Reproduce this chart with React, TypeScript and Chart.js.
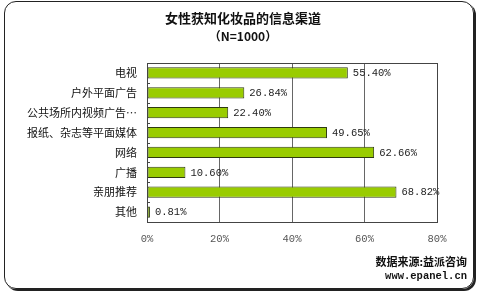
import React, { useEffect, useRef } from "react";
import { Chart, registerables } from "chart.js";

Chart.register(...registerables);

const categories = ["电视", "户外平面广告", "公共场所内视频广告…", "报纸、杂志等平面媒体", "网络", "广播", "亲朋推荐", "其他"];
const values = [55.4, 26.84, 22.4, 49.65, 62.66, 10.6, 68.82, 0.81];
const valueLabels = ["55.40%", "26.84%", "22.40%", "49.65%", "62.66%", "10.60%", "68.82%", "0.81%"];
const xTicks = [0, 20, 40, 60, 80];
const titleText = "女性获知化妆品的信息渠道";
const subtitleText = "（N=1000）";
const sourceText = "数据来源:益派咨询";
const urlText = "www.epanel.cn";

export default function App() {
  const ref = useRef<HTMLCanvasElement | null>(null);

  useEffect(() => {
    document.body.style.margin = "0";
    const canvas = ref.current!;
    const labelPlugin = {
      id: "vals",
      afterDatasetsDraw(chart: any) {
        const ctx = chart.ctx;
        const meta = chart.getDatasetMeta(0);
        ctx.save();
        ctx.font = "10.5px 'Liberation Mono', monospace";
        ctx.fillStyle = "#222";
        ctx.textAlign = "left";
        ctx.textBaseline = "middle";
        meta.data.forEach((bar: any, i: number) => {
          ctx.fillText(valueLabels[i], bar.x + 5, bar.y + 0.5);
        });
        ctx.restore();
      },
    };
    const boxPlugin = {
      id: "box",
      afterDraw(chart: any) {
        const { ctx, chartArea: a } = chart;
        ctx.save();
        ctx.strokeStyle = "#444";
        ctx.lineWidth = 1;
        ctx.strokeRect(Math.round(a.left) + 0.5, Math.round(a.top) + 0.5, Math.round(a.right - a.left), Math.round(a.bottom - a.top));
        // small inward ticks on left axis
        const ys = chart.scales.y;
        const n = categories.length;
        const h = (a.bottom - a.top) / n;
        for (let i = 1; i < n; i++) {
          const y = Math.round(a.top + h * i) + 0.5;
          ctx.beginPath();
          ctx.moveTo(a.left, y);
          ctx.lineTo(a.left + 3, y);
          ctx.stroke();
        }
        ctx.restore();
      },
    };
    const chart = new Chart(canvas, {
      type: "bar",
      data: {
        labels: categories,
        datasets: [
          {
            data: values,
            backgroundColor: (c: any) => {
              const el = c.element;
              const ctx = c.chart.ctx;
              if (!el || el.y === undefined) return "#99cc00";
              const y0 = el.y - 6;
              const y1 = el.y + 6;
              const g = ctx.createLinearGradient(0, y0, 0, y1);
              g.addColorStop(0, "#7fb000");
              g.addColorStop(0.35, "#a8d81a");
              g.addColorStop(0.6, "#9ccc0c");
              g.addColorStop(1, "#5f8c00");
              return g;
            },
            borderColor: "#2e3a10",
            borderWidth: 1,
            borderSkipped: false,
            barPercentage: 0.56,
            categoryPercentage: 1,
          },
        ],
      },
      options: {
        indexAxis: "y",
        animation: false,
        responsive: false,
        maintainAspectRatio: false,
        layout: { padding: { left: 0, right: 43, top: 63, bottom: 43 } },
        plugins: { legend: { display: false }, tooltip: { enabled: false }, title: { display: false } },
        scales: {
          x: {
            min: 0,
            max: 80,
            afterBuildTicks: (s: any) => {
              s.ticks = xTicks.map((v) => ({ value: v }));
            },
            afterFit: (s: any) => {
              s.height = 30;
            },
            grid: { color: "#666", drawTicks: false, lineWidth: 1 },
            border: { display: false },
            ticks: {
              padding: 11,
              color: "#555",
              font: { family: "'Liberation Mono', monospace", size: 10.5 },
              callback: (v: any) => v + "%",
            },
          },
          y: {
            afterFit: (s: any) => {
              s.width = 147;
            },
            grid: { display: false, drawTicks: false },
            border: { display: false },
            ticks: {
              padding: 10,
              color: "#111",
              font: { family: "'Noto Sans CJK SC', sans-serif", size: 11 },
            },
          },
        },
      },
      plugins: [labelPlugin, boxPlugin],
    } as any);
    return () => chart.destroy();
  }, []);

  return (
    <div style={{ position: "fixed", left: 0, top: 0, width: 480, height: 295, background: "#fff", overflow: "hidden" }}>
      <div
        style={{
          position: "absolute",
          left: 4,
          top: 1,
          width: 468,
          height: 286,
          border: "1.5px solid #222",
          borderRadius: 12,
          boxShadow: "2px 2px 0 #222",
        }}
      />
      <canvas ref={ref} width={480} height={295} style={{ position: "absolute", left: 0, top: 0, width: 480, height: 295 }} />
      <div
        style={{
          position: "absolute",
          left: 0,
          width: 486,
          top: 9,
          textAlign: "center",
          fontFamily: "'Noto Sans CJK SC', sans-serif",
          fontWeight: 700,
          fontSize: 13,
          lineHeight: "18px",
          color: "#111",
        }}
      >
        {titleText}
      </div>
      <div
        style={{
          position: "absolute",
          left: 0,
          width: 486,
          top: 27,
          textAlign: "center",
          fontFamily: "'Noto Sans CJK SC', sans-serif",
          fontWeight: 700,
          fontSize: 12,
          lineHeight: "18px",
          color: "#111",
        }}
      >
        {subtitleText}
      </div>
      <div
        style={{
          position: "absolute",
          right: 13,
          top: 253,
          textAlign: "right",
          fontFamily: "'Noto Sans CJK SC', sans-serif",
          fontWeight: 700,
          fontSize: 11,
          lineHeight: "16px",
          color: "#111",
        }}
      >
        {sourceText}
      </div>
      <div
        style={{
          position: "absolute",
          right: 13,
          top: 269,
          textAlign: "right",
          fontFamily: "'Liberation Mono', monospace",
          fontWeight: 700,
          fontSize: 10.5,
          lineHeight: "14px",
          color: "#111",
        }}
      >
        {urlText}
      </div>
    </div>
  );
}
